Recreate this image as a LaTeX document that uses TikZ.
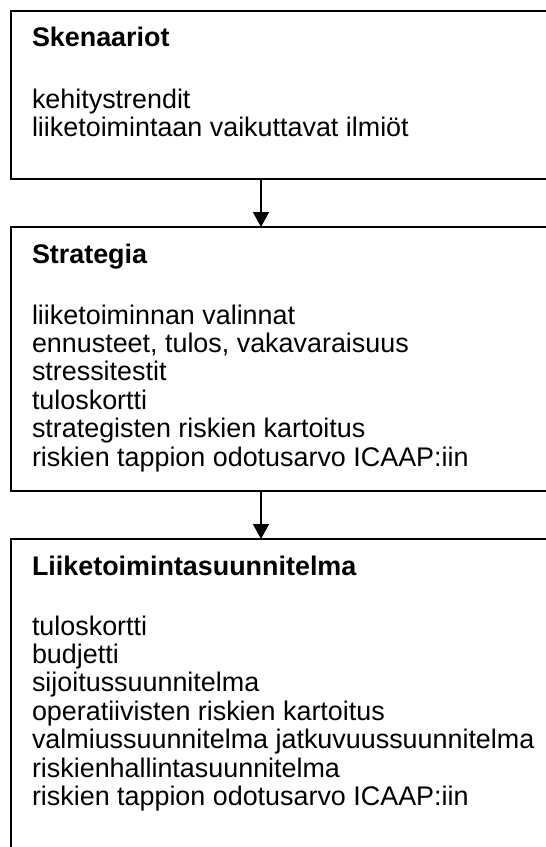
\documentclass[tikz,border=0pt]{standalone}
\usepackage{fontspec}
\setmainfont{Liberation Sans}
\usetikzlibrary{arrows.meta}
\tikzset{
  panel/.style={draw=black, line width=1.6pt, fill=none, inner sep=0pt, outer sep=0pt, anchor=north west, minimum width=600pt},
  txt/.style={anchor=base west, inner sep=0pt, outer sep=0pt, font=\fontsize{26.9}{28.4}\selectfont},
  ttl/.style={txt, font=\fontsize{26.9}{28.4}\selectfont\bfseries},
  arr/.style={line width=1.3pt, -{Triangle[width=16pt,length=15pt]}}
}
\begin{document}
\begin{tikzpicture}[x=1pt, y=-1pt]
\useasboundingbox (0,0) rectangle (546,847);
\clip (0,0) rectangle (546,847);
\fill[white] (0,0) rectangle (546,847);
% boxes
\node[panel, minimum height=168pt] (b1) at (11,11) {};
\node[panel, minimum height=264pt] (b2) at (11,227) {};
\node[panel, minimum height=400pt] (b3) at (11,539) {};
% box 1 text
\node[ttl] (t1) at (32,46.7) {Skenaariot};
\node[txt] (l11) at (32,108.3) {kehitystrendit};
\node[txt] (l12) at (32,136.7) {liiketoimintaan vaikuttavat ilmiöt};
% box 2 text
\node[ttl] (t2) at (32,263) {Strategia};
\foreach \s [count=\i from 0] in {liiketoiminnan valinnat,{ennusteet, tulos, vakavaraisuus},stressitestit,tuloskortti,strategisten riskien kartoitus,riskien tappion odotusarvo ICAAP:iin}
  \node[txt] (l2\i) at (32,324+28.4*\i) {\s};
% box 3 text
\node[ttl] (t3) at (32,575) {Liiketoimintasuunnitelma};
\foreach \s [count=\i from 0] in {tuloskortti,budjetti,sijoitussuunnitelma,operatiivisten riskien kartoitus,valmiussuunnitelma jatkuvuussuunnitelma,riskienhallintasuunnitelma,riskien tappion odotusarvo ICAAP:iin}
  \node[txt] (l3\i) at (32,635+28.4*\i) {\s};
% connectors
\coordinate (ax) at (261,0);
\draw[arr] (b1.south -| ax) -- (b2.north -| ax);
\draw[arr] (b2.south -| ax) -- (b3.north -| ax);
\end{tikzpicture}
\end{document}
